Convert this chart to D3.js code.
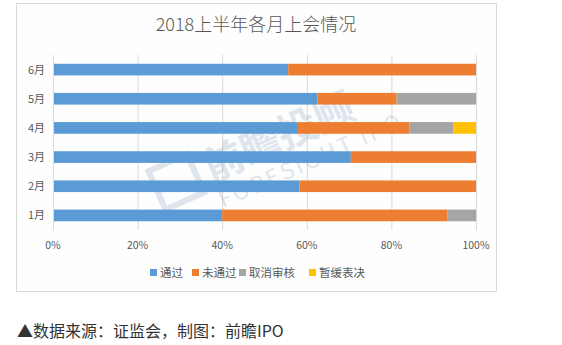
<!DOCTYPE html>
<html><head><meta charset="utf-8">
<script src="https://cdn.jsdelivr.net/npm/d3@7/dist/d3.min.js"></script>
<style>
html,body{margin:0;padding:0;background:#fff;}
text{font-family:"Noto Sans CJK SC","Microsoft YaHei",sans-serif;}
</style></head>
<body><svg id="c" width="562" height="345"></svg>
<script>
const title = "2018上半年各月上会情况";
const months = ["6月","5月","4月","3月","2月","1月"];
const seriesNames = ["通过","未通过","取消审核","暂缓表决"];
const colors = ["#5B9BD5","#ED7D31","#A5A5A5","#FFC000"];
// percentages per month, same order as months
const passed   = [55.6, 62.5, 57.9, 70.4, 58.3, 40.0];
const failed   = [44.4, 18.75, 26.3, 29.6, 41.7, 53.3];
const cancelled= [0,    18.75, 10.5, 0,    0,    6.7];
const deferred = [0,    0,     5.3,  0,    0,    0];
const tickVals = [0,20,40,60,80,100];
const footer = "▲数据来源：证监会，制图：前瞻IPO";

const svg = d3.select("#c");
const M = {l:53, r:476, t:55, b:230};

// frame
svg.append("rect").attr("x",16.5).attr("y",3.5).attr("width",480).attr("height",288)
  .attr("fill","#fefefe").attr("stroke","#d9d9d9").attr("stroke-width",1);

svg.append("text").attr("x",256).attr("y",31).attr("text-anchor","middle")
  .attr("font-size",18).attr("font-weight",300).attr("fill","#595959").text(title);

const x = d3.scaleLinear().domain([0,100]).range([M.l,M.r]);
const y = d3.scaleBand().domain(months).range([M.t,M.b]).paddingInner(0.6).paddingOuter(0.3);

// grid
svg.append("g").selectAll("line").data(tickVals).join("line")
  .attr("x1",d=>x(d)+0.5).attr("x2",d=>x(d)+0.5).attr("y1",M.t).attr("y2",M.b)
  .attr("stroke","#d9d9d9");

// watermark
const wm = svg.append("g").attr("transform","translate(265,150) rotate(-24)").attr("opacity",0.22);
wm.append("rect").attr("x",-115).attr("y",-28).attr("width",42).attr("height",42)
  .attr("fill","none").attr("stroke","#6f8fb5").attr("stroke-width",6);
wm.append("text").attr("x",-62).attr("y",8).attr("font-size",40).attr("font-weight","bold")
  .attr("fill","#6f8fb5").text("前瞻投顾");
wm.append("text").attr("x",-62).attr("y",36).attr("font-size",22).attr("letter-spacing",3)
  .attr("fill","#6f8fb5").text("FORESIGHT IPO");

// stacked data
const rows = months.map((m,i)=>({month:m, "通过":passed[i], "未通过":failed[i], "取消审核":cancelled[i], "暂缓表决":deferred[i]}));
const stack = d3.stack().keys(seriesNames)(rows);
svg.append("g").selectAll("g").data(stack).join("g").attr("fill",(d,i)=>colors[i])
  .selectAll("rect").data(d=>d).join("rect")
  .attr("x",d=>x(d[0])).attr("width",d=>Math.max(0,x(d[1])-x(d[0])))
  .attr("y",d=>y(d.data.month)).attr("height",y.bandwidth());

// y axis line
svg.append("line").attr("x1",M.l+0.5).attr("x2",M.l+0.5).attr("y1",M.t).attr("y2",M.b).attr("stroke","#d9d9d9");

// y labels
svg.append("g").selectAll("text").data(months).join("text")
  .attr("x",45).attr("y",d=>y(d)+y.bandwidth()/2+4).attr("text-anchor","end")
  .attr("font-size",11).attr("fill","#595959").text(d=>d);

// x labels
svg.append("g").selectAll("text").data(tickVals).join("text")
  .attr("x",d=>x(d)).attr("y",249).attr("text-anchor","middle")
  .attr("font-size",10.5).attr("fill","#595959").text(d=>d+"%");

// legend
const lx = [150,192,239,309];
const lg = svg.append("g");
seriesNames.forEach((n,i)=>{
  lg.append("rect").attr("x",lx[i]).attr("y",269).attr("width",7).attr("height",7).attr("fill",colors[i]);
  lg.append("text").attr("x",lx[i]+10).attr("y",277).attr("font-size",11.5).attr("fill","#595959").text(n);
});

svg.append("text").attr("x",17).attr("y",337).attr("font-size",16).attr("fill","#333").text(footer);
</script></body></html>
